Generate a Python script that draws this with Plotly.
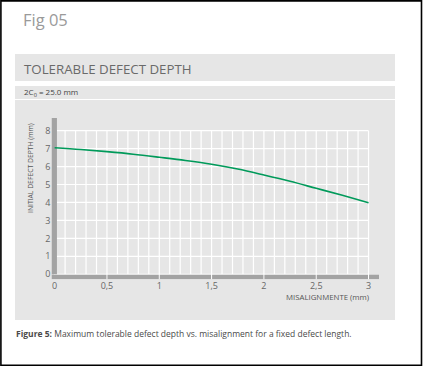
import plotly.graph_objects as go

# Data
misalignment = [0, 0.25, 0.5, 0.75, 1.0, 1.25, 1.5, 1.75, 2.0, 2.25, 2.5, 2.75, 3.0]
defect_depth = [7.05, 6.95, 6.83, 6.69, 6.52, 6.34, 6.13, 5.86, 5.53, 5.18, 4.79, 4.40, 3.99]
x_tickvals = [0, 0.5, 1, 1.5, 2, 2.5, 3]
x_ticktext = ["0", "0,5", "1", "1,5", "2", "2,5", "3"]
y_tickvals = [0, 1, 2, 3, 4, 5, 6, 7, 8]
x_minor = [round(i * 0.1, 1) for i in range(31)]

W, H = 423, 366
def px(x):
    return x / W
def py(y):
    return 1 - y / H

XR = [-0.03, 3.1]
YR = [-0.28, 8.7]
GRID = "#ffffff"
PANEL = "#e6e6e6"
BAR = "#a3a3a3"
FONT = "Open Sans"

fig = go.Figure()
fig.add_trace(go.Scatter(x=misalignment, y=defect_depth, mode="lines",
                         line=dict(color="#009a5a", width=1.6, shape="spline"),
                         hoverinfo="skip", showlegend=False))

shapes = []
# outer frame
shapes.append(dict(type="rect", xref="paper", yref="paper", x0=px(0.9), x1=px(421.5), y0=py(365.2), y1=py(0.9),
                   line=dict(color="#000", width=1.6), fillcolor="rgba(0,0,0,0)", layer="below"))
# bands
for (a, b) in [(54, 81), (86, 99), (100, 320)]:
    shapes.append(dict(type="rect", xref="paper", yref="paper", x0=px(15), x1=px(395), y0=py(b), y1=py(a),
                       line=dict(width=0), fillcolor=PANEL, layer="below"))
# grid: minor verticals
for v in x_minor:
    major = v in x_tickvals
    shapes.append(dict(type="line", xref="x", yref="y", x0=v, x1=v, y0=(YR[0] if major else 0), y1=8,
                       line=dict(color=GRID, width=1.2), layer="below"))
for h in y_tickvals:
    shapes.append(dict(type="line", xref="x", yref="y", x0=0, x1=3, y0=h, y1=h,
                       line=dict(color=GRID, width=1.2), layer="below"))
# axis bars
shapes.append(dict(type="rect", xref="x", yref="y", x0=XR[0], x1=0.022, y0=0, y1=YR[1],
                   line=dict(width=0), fillcolor=BAR, layer="below"))
xb = [XR[0]] + x_tickvals[1:] + [XR[1]]
for i in range(len(xb) - 1):
    shapes.append(dict(type="rect", xref="x", yref="y", x0=xb[i] + (0.005 if i > 0 else 0), x1=xb[i + 1] - (0.005 if i < len(xb) - 2 else 0),
                       y0=YR[0], y1=-0.03, line=dict(width=0), fillcolor=BAR, layer="below"))

annotations = [
    dict(text="Fig 05", x=px(21), y=py(20), xref="paper", yref="paper", xanchor="left", yanchor="middle",
         showarrow=False, font=dict(family=FONT, size=16.5, color="#9a9a9a")),
    dict(text="TOLERABLE DEFECT DEPTH", x=px(22), y=py(69), xref="paper", yref="paper", xanchor="left", yanchor="middle",
         showarrow=False, font=dict(family=FONT, size=13.3, color="#6a6a6a")),
    dict(text="2C<sub>0</sub> = 25.0 mm", x=px(22), y=py(92.5), xref="paper", yref="paper", xanchor="left", yanchor="middle",
         showarrow=False, font=dict(family=FONT, size=8, color="#444")),
    dict(text="INITIAL DEFECT DEPTH (mm)", x=px(30), y=py(168), xref="paper", yref="paper", xanchor="center", yanchor="middle",
         textangle=-90, showarrow=False, font=dict(family=FONT, size=6.8, color="#555")),
    dict(text="MISALIGNMENTE (mm)", x=px(371), y=py(297), xref="paper", yref="paper", xanchor="right", yanchor="middle",
         showarrow=False, font=dict(family=FONT, size=7.8, color="#555")),
    dict(text="<b>Figure 5:</b> Maximum tolerable defect depth vs. misalignment for a fixed defect length.",
         x=px(14), y=py(333), xref="paper", yref="paper", xanchor="left", yanchor="middle",
         showarrow=False, font=dict(family=FONT, size=8.5, color="#4a4a4a")),
]

fig.update_layout(
    width=W, height=H, margin=dict(l=0, r=0, t=0, b=0),
    paper_bgcolor="white", plot_bgcolor="rgba(0,0,0,0)",
    shapes=shapes, annotations=annotations, showlegend=False,
    xaxis=dict(domain=[px(51.5), px(379)], range=XR, tickvals=x_tickvals, ticktext=x_ticktext,
               showgrid=False, zeroline=False, showline=False, ticks="", fixedrange=True,
               tickfont=dict(family=FONT, size=9, color="#666")),
    yaxis=dict(domain=[py(279.3), py(118.1)], range=YR, tickvals=y_tickvals,
               showgrid=False, zeroline=False, showline=False, ticks="", fixedrange=True,
               tickfont=dict(family=FONT, size=9, color="#666")),
)
fig.write_html("out.html", config={"displayModeBar": False, "staticPlot": True},
               post_script="document.body.style.margin='0px';document.body.style.padding='0px';")
